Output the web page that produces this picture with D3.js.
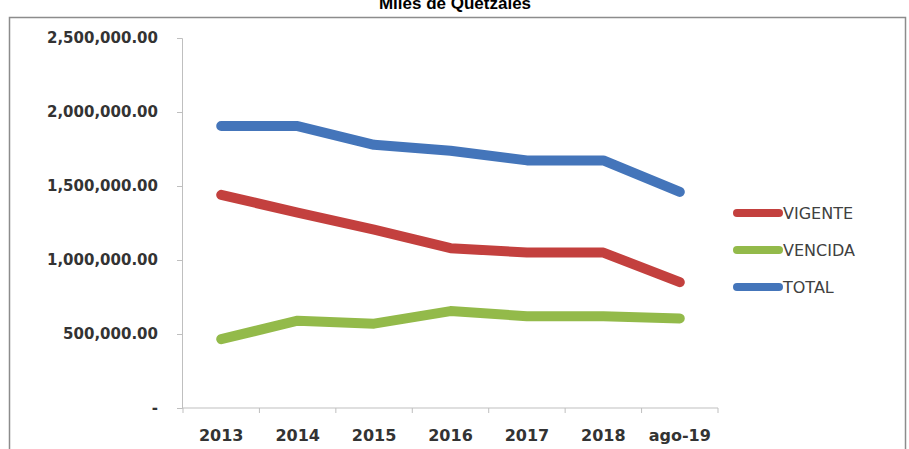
<html>
<head>
    <meta charset="utf-8">
    <title>Miles de Quetzales</title>
    <script src="https://cdn.jsdelivr.net/npm/d3@7"></script>
    <style>
        body { margin: 0; background: #fff; }
    </style>
</head>
<body>
<div id="chart"></div>
<script>
    // datos (miles de quetzales)
    const categories = ["2013", "2014", "2015", "2016", "2017", "2018", "ago-19"];
    const vigente = [1440000, 1320000, 1205000, 1080000, 1050000, 1050000, 850000];
    const vencida = [465000, 590000, 570000, 655000, 620000, 620000, 605000];
    const total = [1905000, 1905000, 1778000, 1738000, 1673000, 1673000, 1460000];
    const yTicks = [0, 500000, 1000000, 1500000, 2000000, 2500000];
    const seriesNames = ["VIGENTE", "VENCIDA", "TOTAL"];
    const seriesColors = ["#c3403e", "#93ba4a", "#4475ba"];

    const width = 909, height = 449;
    const svg = d3.select("#chart").append("svg")
        .attr("width", width)
        .attr("height", height);

    // marco del grafico
    svg.append("rect")
        .attr("x", 9.5).attr("y", 17.5)
        .attr("width", 896).attr("height", 460)
        .attr("fill", "#fff")
        .attr("stroke", "#8c8c8c")
        .attr("stroke-width", 1.5);

    svg.append("text")
        .attr("x", 455).attr("y", 9)
        .attr("text-anchor", "middle")
        .attr("font-family", "Liberation Sans, Arial, sans-serif")
        .attr("font-weight", "bold")
        .attr("font-size", 17)
        .attr("fill", "#000")
        .text("Miles de Quetzales");

    const x = d3.scaleBand().domain(categories).range([183, 718]);
    const y = d3.scaleLinear().domain([0, 2500000]).range([408, 38]);

    const fmt = d3.format(",.2f");

    // eje Y
    const yAxis = svg.append("g")
        .attr("transform", "translate(182,0)")
        .call(d3.axisLeft(y).tickValues(yTicks).tickSize(5).tickPadding(19)
            .tickFormat(d => d === 0 ? "-" : fmt(d)));
    yAxis.select(".domain").attr("stroke", "#bfbfbf");
    yAxis.selectAll(".tick line").attr("stroke", "#bfbfbf");
    yAxis.selectAll("text")
        .attr("font-family", "DejaVu Sans, sans-serif")
        .attr("font-weight", "bold")
        .attr("font-size", 15)
        .attr("fill", "#333");

    // eje X
    const xAxis = svg.append("g")
        .attr("transform", "translate(0,408)")
        .call(d3.axisBottom(x).tickSize(0).tickPadding(22));
    xAxis.select(".domain").attr("stroke", "#bfbfbf").attr("d", "M182,0H718");
    xAxis.selectAll("text")
        .attr("font-family", "DejaVu Sans, sans-serif")
        .attr("font-weight", "bold")
        .attr("font-size", 16)
        .attr("fill", "#333");
    // marcas entre categorias
    xAxis.selectAll("line.sep")
        .data(categories.concat(["end"]))
        .join("line")
        .attr("class", "sep")
        .attr("x1", (d, i) => i < categories.length ? x(d) : x.range()[1])
        .attr("x2", (d, i) => i < categories.length ? x(d) : x.range()[1])
        .attr("y1", 0).attr("y2", 5)
        .attr("stroke", "#bfbfbf");

    const seriesData = [vigente, vencida, total];
    const line = d3.line()
        .x((d, i) => x(categories[i]) + x.bandwidth() / 2)
        .y(d => y(d));

    svg.append("g")
        .selectAll("path")
        .data(seriesData)
        .join("path")
        .attr("d", line)
        .attr("fill", "none")
        .attr("stroke", (d, i) => seriesColors[i])
        .attr("stroke-width", 10)
        .attr("stroke-linecap", "round")
        .attr("stroke-linejoin", "round");

    // leyenda
    const legend = svg.append("g")
        .selectAll("g")
        .data(seriesNames)
        .join("g")
        .attr("transform", (d, i) => `translate(737,${213 + i * 37})`);
    legend.append("line")
        .attr("x1", 0).attr("x2", 42)
        .attr("stroke", (d, i) => seriesColors[i])
        .attr("stroke-width", 8)
        .attr("stroke-linecap", "round");
    legend.append("text")
        .attr("x", 46)
        .attr("dy", "0.36em")
        .attr("font-family", "DejaVu Sans, sans-serif")
        .attr("font-size", 16)
        .attr("fill", "#404040")
        .text(d => d);
</script>
</body>
</html>
